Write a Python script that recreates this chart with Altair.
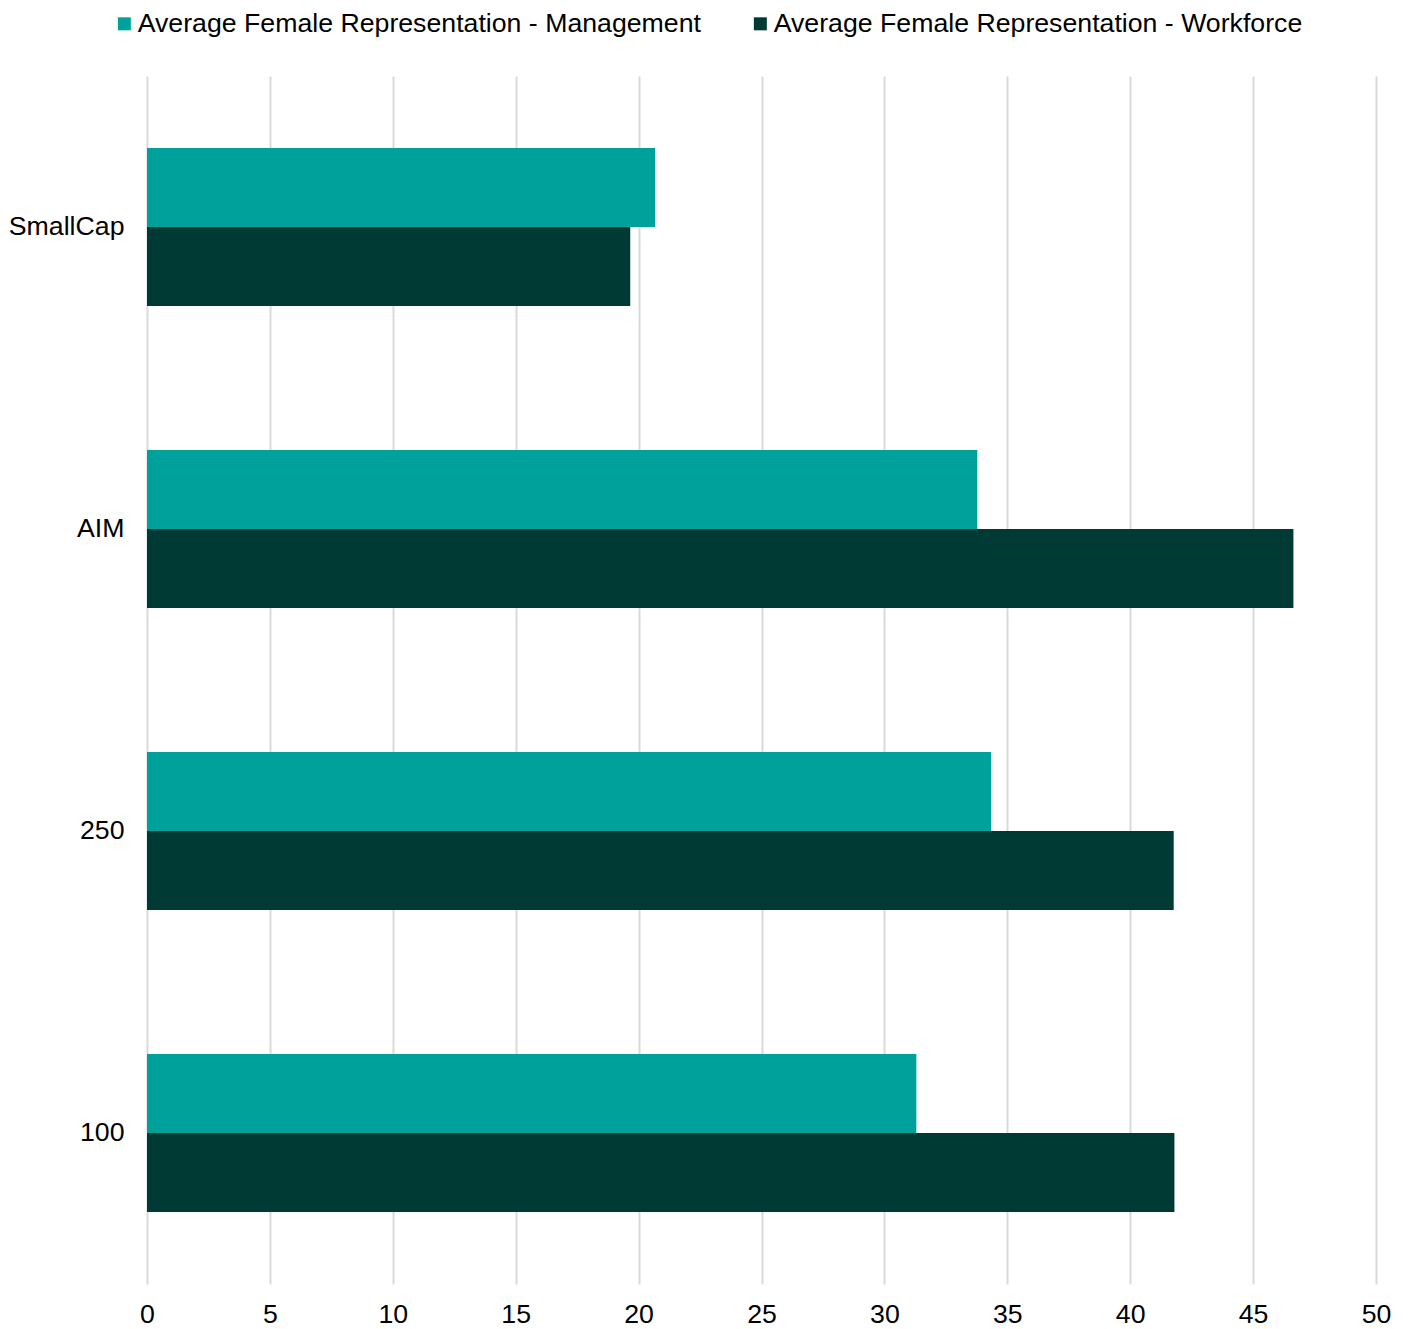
import altair as alt
import pandas as pd

categories = ["SmallCap", "AIM", "250", "100"]
series = ["Average Female Representation - Management", "Average Female Representation - Workforce"]
management = [20.67, 33.78, 34.34, 31.30]
workforce = [19.66, 46.64, 41.77, 41.80]
x_ticks = [0, 5, 10, 15, 20, 25, 30, 35, 40, 45, 50]
colors = ["#00A19A", "#003A35"]

rows = []
for c, m, w in zip(categories, management, workforce):
    rows.append({"category": c, "series": series[0], "value": m})
    rows.append({"category": c, "series": series[1], "value": w})
df = pd.DataFrame(rows)

FONT = "Liberation Sans"
FS = 26.7

chart = alt.Chart(df).mark_bar(size=79).encode(
    y=alt.Y("category:N", sort=categories, title=None,
            scale=alt.Scale(paddingInner=0.477, paddingOuter=0.2385),
            axis=alt.Axis(domain=False, ticks=False, grid=False, labelPadding=23,
                          labelFont=FONT, labelFontSize=FS, labelColor="#000000",
                          labelAlign="right")),
    yOffset=alt.YOffset("series:N", sort=series),
    x=alt.X("value:Q", title=None,
            scale=alt.Scale(domain=[0, 50], nice=False, zero=True),
            axis=alt.Axis(values=x_ticks, domain=False, ticks=False, grid=True,
                          gridColor="#d9d9d9", gridWidth=2, labelPadding=17,
                          labelFont=FONT, labelFontSize=FS, labelColor="#000000",
                          labelFlush=False)),
    color=alt.Color("series:N", sort=series,
                    scale=alt.Scale(domain=series, range=colors),
                    legend=alt.Legend(title=None, orient="none", legendX=-36, legendY=-66,
                                      direction="horizontal", columns=2, columnPadding=46,
                                      symbolType="square", symbolSize=169, symbolStrokeWidth=0,
                                      labelOffset=0, labelFont=FONT, labelFontSize=FS,
                                      labelColor="#000000", labelLimit=0)),
).properties(
    width=1229, height=1208,
    autosize=alt.AutoSizeParams(type="none"),
    padding={"left": 147, "top": 76, "right": 32, "bottom": 45},
).configure(background="#ffffff").configure_view(strokeWidth=0, stroke=None)

chart.save("out.html", embed_options={"renderer": "svg", "actions": False})
